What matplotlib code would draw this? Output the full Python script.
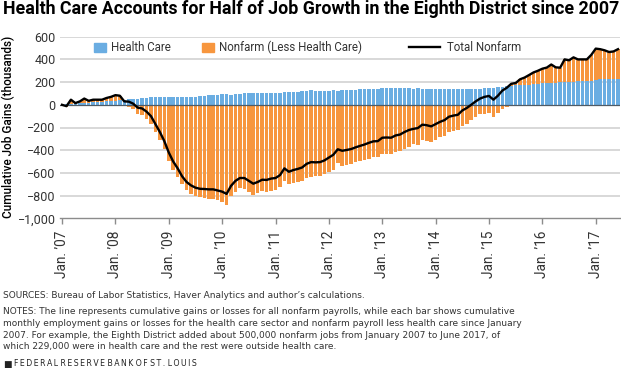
import numpy as np
import matplotlib
matplotlib.use("Agg")
import matplotlib.pyplot as plt
from matplotlib.patches import Patch
from matplotlib.lines import Line2D

# cumulative job gains since Jan. 2007 (thousands), monthly Jan. 2007 - Jun. 2017
health_care = [
    0, 3, 6, 9, 12, 15, 18, 21, 24, 27, 30, 33,
    36, 40, 44, 47, 51, 55, 58, 62, 65, 68, 71, 73,
    73, 73, 72, 72, 73, 73, 73, 74, 75, 85, 85, 86,
    92, 94, 90, 95, 92, 100, 100, 100, 100, 100, 102, 108,
    106, 106, 110, 112, 115, 116, 118, 124, 133, 124, 122, 121,
    124, 133, 123, 130, 130, 130, 130, 137, 139, 139, 139, 139,
    147, 147, 147, 147, 146, 146, 146, 137, 147, 137, 137, 137,
    137, 137, 137, 137, 137, 137, 137, 137, 137, 137, 140, 150,
    152, 152, 155, 160, 166, 170, 171, 173, 175, 177, 180, 185,
    190, 191, 192, 195, 198, 200, 203, 205, 208, 210, 212, 214,
    220, 224, 226, 228, 229, 229,
]
nonfarm_less_hc = [
    0, -15, 39, 6, 18, 40, 17, 24, 21, 18, 30, 37,
    49, 40, -14, -19, -41, -80, -90, -122, -165, -238, -311, -393,
    -493, -573, -632, -702, -753, -783, -803, -814, -817, -830, -830, -841,
    -857, -879, -804, -765, -737, -745, -770, -795, -780, -760, -764, -758,
    -751, -726, -670, -702, -690, -681, -670, -644, -638, -631, -627, -611,
    -589, -573, -515, -535, -528, -520, -505, -499, -489, -474, -461, -459,
    -437, -435, -437, -417, -408, -386, -368, -349, -352, -312, -317, -327,
    -307, -287, -272, -242, -232, -225, -187, -165, -137, -107, -85, -80,
    -74, -107, -75, -35, -16, 15, 21, 52, 65, 85, 105, 115,
    128, 137, 163, 135, 129, 200, 189, 213, 192, 190, 188, 226,
    275, 266, 254, 237, 241, 261,
]
total_nonfarm = [
    0, -12, 45, 15, 30, 55, 35, 45, 45, 45, 60, 70,
    85, 80, 30, 28, 10, -25, -32, -60, -100, -170, -240, -320,
    -420, -500, -560, -630, -680, -710, -730, -740, -742, -745, -745, -755,
    -765, -785, -714, -670, -645, -645, -670, -695, -680, -660, -662, -650,
    -645, -620, -560, -590, -575, -565, -552, -520, -505, -507, -505, -490,
    -465, -440, -392, -405, -398, -390, -375, -362, -350, -335, -322, -320,
    -290, -288, -290, -270, -262, -240, -222, -212, -205, -175, -180, -190,
    -170, -150, -135, -105, -95, -88, -50, -28, 0, 30, 55, 70,
    78, 45, 80, 125, 150, 185, 192, 225, 240, 262, 285, 300,
    318, 328, 355, 330, 327, 400, 392, 418, 400, 400, 400, 440,
    495, 490, 480, 465, 470, 490,
]
tick_labels = ["Jan. ’07", "Jan. ’08", "Jan. ’09", "Jan. ’10", "Jan. ’11", "Jan. ’12",
               "Jan. ’13", "Jan. ’14", "Jan. ’15", "Jan. ’16", "Jan. ’17"]
y_ticks = [600, 400, 200, 0, -200, -400, -600, -800, -1000]

BLUE = "#6aade2"
ORANGE = "#f7963e"
TXT = "#333333"
NARROW = ["Liberation Sans Narrow", "DejaVu Sans"]

plt.rcParams["font.family"] = ["Roboto", "DejaVu Sans"]

hc = np.array(health_care)
oth = np.array(nonfarm_less_hc)
tot = np.array(total_nonfarm)
x = np.arange(len(tot))

fig = plt.figure(figsize=(6.21, 3.87), dpi=100)
W, H = 621, 387
ax = fig.add_axes([59.8 / W, 1 - 218.3 / H, 560.4 / W, 181.6 / H])

for v in y_ticks[:-1]:
    if v != 0:
        ax.axhline(v, color="#d6d6d6", lw=1.3, zorder=0)

ax.bar(x, hc, width=0.8, color=BLUE, lw=0, zorder=1)
ax.bar(x, oth, width=0.8, bottom=np.where(oth > 0, hc, 0), color=ORANGE, lw=0, zorder=1)
ax.axhline(0, color="#4f5b66", lw=0.9, zorder=2)
ax.plot(x, tot, color="black", lw=1.7, zorder=3, solid_joinstyle="round")

ax.set_xlim(-0.5, len(tot) - 0.5)
ax.set_ylim(-1000, 600)
ax.set_yticks(y_ticks)
ax.set_yticklabels([f"{v:,}".replace("-", "\u2212") for v in y_ticks])
ax.set_xticks(np.arange(0, len(tot), 12))
ax.set_xticklabels(tick_labels, rotation=90)

for s in ["top", "right", "left"]:
    ax.spines[s].set_visible(False)
ax.spines["bottom"].set_color("#8c8c8c")
ax.spines["bottom"].set_linewidth(1.0)
ax.tick_params(axis="y", length=0, pad=3, labelsize=9, labelcolor=TXT)
ax.tick_params(axis="x", length=4, width=1.0, color="#8c8c8c", pad=5,
               labelsize=9.8, labelcolor=TXT)

bar_handles = [Patch(color=BLUE, label="Health Care"),
               Patch(color=ORANGE, label="Nonfarm (Less Health Care)")]
leg1 = ax.legend(handles=bar_handles, loc="center left", bbox_to_anchor=(0.051, 0.9405),
                 ncol=2, frameon=False, fontsize=8.3, borderpad=0, handlelength=1.0,
                 handleheight=0.85, handletextpad=0.45, columnspacing=2.75)
for t in leg1.get_texts():
    t.set_color(TXT)
ax.add_artist(leg1)
leg2 = ax.legend(handles=[Line2D([], [], color="black", lw=1.7, label="Total Nonfarm")],
                 loc="center left", bbox_to_anchor=(0.6125, 0.9405), frameon=False,
                 fontsize=8.3, borderpad=0, handlelength=2.7, handletextpad=0.6)
for t in leg2.get_texts():
    t.set_color(TXT)

fig.text(8 / W, 1 - 127 / H, "Cumulative Job Gains (thousands)", rotation=90,
         ha="center", va="center", fontsize=8.5, fontweight="medium", color="black")

renderer = fig.canvas.get_renderer()


def fit_width(txt, target_px):
    # shrink/grow a text so it spans target_px horizontally
    w = txt.get_window_extent(renderer).width
    txt.set_fontsize(txt.get_fontsize() * target_px / w)


title = fig.text(3 / W, 1 - 14.5 / H,
                 "Health Care Accounts for Half of Job Growth in the Eighth District since 2007",
                 ha="left", va="baseline", fontsize=12, fontweight="bold",
                 family=["Roboto", "DejaVu Sans"], color="black")
fit_width(title, 614)

notes = [
    (298, "SOURCES: Bureau of Labor Statistics, Haver Analytics and author’s calculations."),
    (314.5, "NOTES: The line represents cumulative gains or losses for all nonfarm payrolls, while each bar shows cumulative"),
    (326.5, "monthly employment gains or losses for the health care sector and nonfarm payroll less health care since January"),
    (338, "2007. For example, the Eighth District added about 500,000 nonfarm jobs from January 2007 to June 2017, of"),
    (349.5, "which 229,000 were in health care and the rest were outside health care."),
]
for yy, line in notes:
    fig.text(3 / W, 1 - yy / H, line, ha="left", va="baseline", fontsize=6.5,
             family=NARROW, color=TXT)

fig.text(3 / W, 1 - 366.5 / H, "■", ha="left", va="baseline", fontsize=6.5,
         family="DejaVu Sans", color="#222222")
spaced = " ".join("\u2009".join(w) for w in "FEDERAL RESERVE BANK OF ST. LOUIS".split())
frb = fig.text(14 / W, 1 - 366.5 / H, spaced,
               ha="left", va="baseline", fontsize=5.5, family="DejaVu Sans", color="#222222")
fit_width(frb, 183)

fig.savefig("out.png", dpi=100)
